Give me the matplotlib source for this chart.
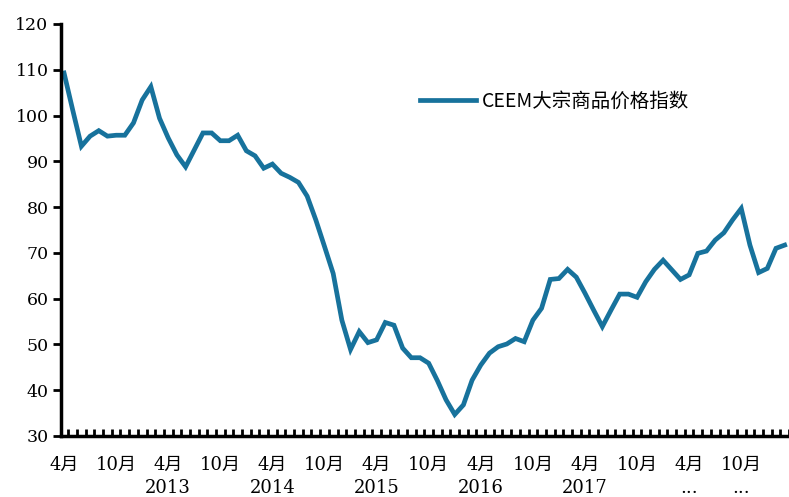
import numpy as np
import matplotlib
matplotlib.use("Agg")
from matplotlib import pyplot as plt

# CEEM commodity price index, monthly from Apr 2013
values = [109.3, 101.2, 93.3, 95.5, 96.7, 95.5, 95.7, 95.7, 98.4, 103.4,
          106.3, 99.4, 95.1, 91.4, 88.8, 92.5, 96.2, 96.2, 94.5, 94.5,
          95.7, 92.3, 91.2, 88.5, 89.4, 87.4, 86.5, 85.4, 82.4, 77.2,
          71.4, 65.5, 55.3, 48.9, 52.8, 50.4, 51.0, 54.8, 54.2, 49.2,
          47.1, 47.1, 45.9, 42.1, 37.9, 34.7, 36.8, 42.2, 45.5, 48.1,
          49.5, 50.1, 51.3, 50.6, 55.3, 57.9, 64.2, 64.4, 66.4, 64.7,
          61.2, 57.5, 53.9, 57.5, 61.0, 61.0, 60.3, 63.7, 66.4, 68.4,
          66.3, 64.2, 65.2, 69.9, 70.4, 72.8, 74.4, 77.2, 79.7, 71.7,
          65.7, 66.6, 71.0, 71.7]
month_labels = ["4月", "10月"] * 7
year_labels = ["2013", "2014", "2015", "2016", "2017", "...", "..."]
year_pos = [12, 24, 36, 48, 60, 72, 78]
series_name = "CEEM大宗商品价格指数"

plt.rcParams['font.family'] = ['DejaVu Serif', 'Noto Sans CJK SC']

fig = plt.figure(figsize=(7.89, 4.97), dpi=100)
ax = fig.add_axes([61 / 789, 61 / 497, 728 / 789, 412 / 497])

x = np.arange(len(values))
ax.plot(x, values, color='#17729c', lw=3.4, solid_joinstyle='miter',
        label=series_name)

ax.set_xlim(-0.35, 82.85)
ax.set_ylim(30, 120)
ax.set_yticks(np.arange(30, 121, 10))
ax.tick_params(axis='y', direction='out', length=6, width=2, labelsize=12.5, pad=3)

ax.set_xticks(np.arange(0, 84) + 0.5)
ax.set_xticklabels([])
ax.tick_params(axis='x', direction='in', length=5, width=2)
for k, lab in enumerate(month_labels):
    ax.text(k * 6, 25.6, lab, ha='center', va='top', fontsize=13)
for p, lab in zip(year_pos, year_labels):
    ax.text(p, 17.6, lab, ha='center', va='baseline', fontsize=13)

for s in ['top', 'right']:
    ax.spines[s].set_visible(False)
for s in ['left', 'bottom']:
    ax.spines[s].set_linewidth(2.5)

ax.legend(loc='center left', bbox_to_anchor=(0.493, 0.813), frameon=False,
          borderaxespad=0, borderpad=0, handlelength=2.9, handletextpad=0.3,
          prop={'family': ['Noto Sans CJK SC'], 'size': 14})

fig.savefig("out.png", dpi=100)
